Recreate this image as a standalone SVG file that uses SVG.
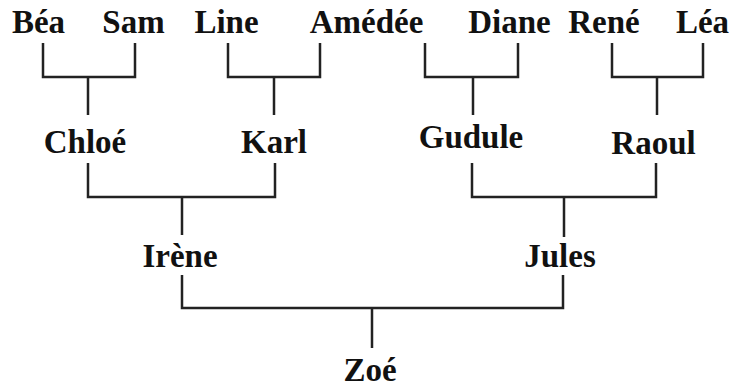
<svg xmlns="http://www.w3.org/2000/svg" width="732" height="388" viewBox="0 0 732 388">
<style>
.t{font-family:"Liberation Serif",Tinos,"Times New Roman",Times,"DejaVu Serif",serif;font-weight:700;font-size:33px;fill:#111;text-anchor:middle}
.c{fill:none;stroke:#222;stroke-width:2.5;stroke-linejoin:miter}
</style>
<rect width="732" height="388" fill="#fff"/>
<g id="connectors" class="c">
<path d="M43 43V77H135V43M88 77V115"/>
<path d="M228 43V77H320V43M274 77V115"/>
<path d="M425 43V77H518V43M473 77V115"/>
<path d="M612 43V77H703V43M657 77V115"/>
<path d="M88 163V197H275V163M182 197V235"/>
<path d="M472 163V197H656V163M564 197V237"/>
<path d="M182 275V308H563V275M372 308V348"/>
</g>
<g id="bea"><text class="t" x="38.5" y="33">Béa</text></g>
<g id="sam"><text class="t" x="133.5" y="33">Sam</text></g>
<g id="line"><text class="t" x="226.5" y="33">Line</text></g>
<g id="amedee"><text class="t" x="366.5" y="33">Amédée</text></g>
<g id="diane"><text class="t" x="509.5" y="33">Diane</text></g>
<g id="rene"><text class="t" x="604" y="33">René</text></g>
<g id="lea"><text class="t" x="702.5" y="33">Léa</text></g>
<g id="chloe"><text class="t" x="85" y="153">Chloé</text></g>
<g id="karl"><text class="t" x="274" y="153">Karl</text></g>
<g id="gudule"><text class="t" x="471" y="148">Gudule</text></g>
<g id="raoul"><text class="t" x="653.5" y="154">Raoul</text></g>
<g id="irene"><text class="t" x="180" y="267">Irène</text></g>
<g id="jules"><text class="t" x="560" y="267">Jules</text></g>
<g id="zoe"><text class="t" x="370" y="381">Zoé</text></g>
</svg>
